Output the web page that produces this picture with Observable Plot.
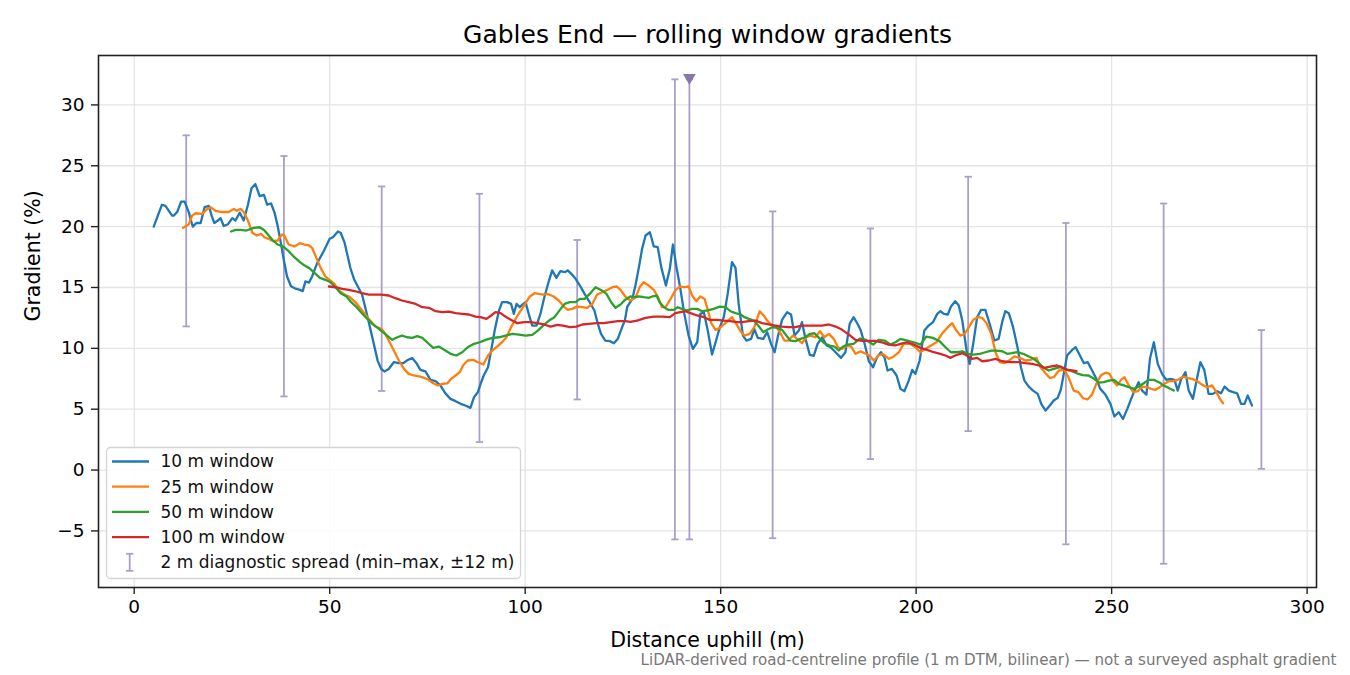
<!DOCTYPE html>
<html><head><meta charset="utf-8">
<script src="https://cdn.jsdelivr.net/npm/d3@7"></script>
<script src="https://cdn.jsdelivr.net/npm/@observablehq/plot@0.6"></script>
<style>body{margin:0;background:#fff}#chart{width:1350px;height:675px}</style>
</head><body><div id="chart"></div>
<script>
// ---------- data ----------
const seriesNames = ["10 m window", "25 m window", "50 m window", "100 m window"];
const seriesColors = ["#1f77b4", "#ff7f0e", "#2ca02c", "#d62728"];

const w10 = [[5.0,20.0],[7.1,21.8],[8.0,21.7],[9.7,20.9],[10.1,20.9],[11.0,21.2],[12.0,22.05],[12.9,22.05],[14.0,21.15],[14.4,20.6],[15.0,20.0],[15.9,20.3],[17.0,20.3],[18.0,21.6],[19.1,21.7],[19.8,20.9],[20.5,20.3],[21.4,20.5],[22.1,20.7],[22.9,20.05],[24.0,20.2],[25.1,20.7],[25.9,20.5],[27.0,21.15],[28.0,20.5],[29.1,21.8],[30.0,23.15],[31.0,23.5],[32.1,22.5],[33.2,22.6],[34.0,21.8],[35.0,21.9],[35.9,21.15],[36.7,20.05],[37.6,18.5],[38.3,17.2],[39.1,15.9],[40.1,15.1],[41.3,14.9],[42.4,14.8],[43.1,14.7],[43.8,15.5],[44.7,15.4],[45.5,15.9],[46.8,17.0],[48.5,18.0],[50.0,19.0],[50.9,19.15],[52.1,19.6],[52.8,19.5],[53.8,18.7],[55.3,16.6],[56.2,15.7],[57.5,14.9],[58.3,14.4],[59.6,12.7],[60.9,10.9],[62.3,8.95],[63.2,8.3],[64.0,8.1],[65.1,8.3],[66.4,8.86],[67.7,8.78],[68.8,8.78],[70.0,9.05],[71.1,9.2],[72.2,8.78],[73.2,8.23],[74.5,8.1],[75.8,7.4],[77.1,7.3],[78.3,6.95],[79.6,6.3],[80.9,5.85],[82.2,5.66],[83.5,5.44],[84.7,5.3],[86.0,5.11],[86.9,5.98],[87.9,6.4],[88.6,7.08],[89.4,7.77],[90.5,8.45],[91.3,9.82],[92.2,11.46],[93.3,13.1],[94.1,13.8],[95.4,13.8],[96.4,13.65],[97.1,12.83],[97.8,13.65],[98.6,13.38],[99.5,13.65],[100.1,13.8],[100.9,12.83],[101.8,11.87],[102.9,11.87],[103.9,12.83],[104.9,14.2],[106.1,15.57],[106.9,16.4],[108.0,15.79],[109.0,16.34],[110.1,16.26],[110.9,16.4],[111.8,16.12],[112.9,15.71],[114.0,15.16],[115.2,14.47],[116.5,13.79],[117.7,13.11],[118.6,12.01],[119.4,11.19],[120.5,10.64],[121.7,10.59],[122.7,10.42],[123.7,10.78],[124.8,11.74],[125.5,12.3],[126.1,13.4],[127.4,14.06],[128.2,15.16],[129.1,16.67],[129.9,18.17],[130.8,19.27],[131.9,19.54],[132.9,18.37],[133.9,18.31],[134.8,16.67],[136.0,15.16],[137.0,16.53],[137.8,18.53],[138.7,16.67],[139.7,14.89],[140.7,12.83],[141.8,11.05],[142.9,9.96],[144.0,10.5],[144.8,12.83],[145.7,12.97],[146.7,11.46],[147.8,9.49],[148.7,10.5],[149.8,11.74],[150.8,12.56],[151.8,14.47],[152.9,17.08],[153.8,16.61],[154.6,13.65],[155.7,11.05],[156.6,10.64],[157.8,10.78],[158.6,11.6],[159.5,10.86],[160.9,10.78],[161.9,11.33],[162.9,10.37],[163.8,9.68],[164.6,10.91],[165.7,12.34],[167.0,12.97],[168.0,12.78],[168.9,11.05],[170.0,11.46],[170.8,12.15],[171.7,10.78],[172.8,9.46],[173.8,9.38],[174.8,10.37],[176.0,10.91],[177.1,10.23],[178.1,10.09],[179.4,9.68],[180.8,9.22],[181.9,9.68],[183.0,12.01],[184.0,12.56],[185.1,11.96],[185.8,11.5],[186.8,10.4],[187.9,8.94],[189.0,8.45],[190.0,9.27],[191.0,9.68],[191.9,9.27],[192.7,8.18],[193.8,8.31],[195.0,7.77],[196.0,6.67],[197.0,6.48],[198.1,7.35],[199.0,8.23],[199.8,7.9],[200.9,9.0],[202.1,11.46],[203.2,11.87],[204.3,12.15],[205.4,12.83],[206.2,13.05],[207.1,12.83],[208.1,12.78],[208.9,13.43],[210.0,13.87],[210.9,13.52],[211.8,12.28],[212.9,9.82],[213.7,8.72],[214.6,10.37],[215.6,12.56],[216.6,13.16],[217.7,13.16],[218.8,12.01],[220.0,10.64],[221.1,10.78],[222.0,12.15],[222.8,13.05],[223.7,12.89],[224.8,11.74],[226.0,9.96],[226.8,8.45],[227.7,7.35],[228.8,6.86],[229.9,6.53],[231.1,6.26],[232.0,5.44],[233.1,4.89],[234.2,5.3],[235.2,5.71],[236.2,5.93],[237.0,6.6],[237.6,7.63],[238.6,9.41],[239.9,9.87],[240.8,10.09],[241.9,9.41],[242.9,8.78],[243.9,8.86],[245.0,8.18],[246.1,7.49],[247.1,6.67],[248.4,6.2],[249.7,5.44],[250.7,4.4],[251.8,4.75],[252.9,4.2],[254.0,5.03],[255.0,5.85],[255.8,6.48],[256.9,7.22],[257.8,6.53],[258.9,6.2],[259.8,9.14],[260.8,10.5],[261.8,8.72],[262.9,7.9],[264.0,7.41],[265.0,7.49],[266.1,7.41],[266.9,6.53],[267.8,7.49],[268.9,8.04],[269.7,6.53],[270.8,5.85],[271.9,7.63],[272.7,8.86],[273.7,8.23],[274.8,6.26],[275.9,6.26],[277.0,6.48],[278.0,6.31],[278.9,6.86],[280.0,6.53],[281.1,6.4],[282.1,6.31],[283.1,5.44],[284.0,5.44],[284.8,6.12],[285.9,5.3]];

const w25 = [[12.5,19.9],[14.0,20.2],[14.8,20.9],[15.7,21.1],[17.4,21.05],[18.5,21.4],[19.5,21.6],[20.8,21.3],[22.5,21.2],[24.2,21.2],[25.5,21.46],[26.3,21.3],[27.2,21.46],[28.0,21.2],[29.1,20.5],[30.2,19.5],[31.4,19.27],[32.5,19.4],[33.3,19.13],[34.4,19.0],[35.5,18.8],[36.7,18.86],[37.8,19.35],[38.4,19.27],[39.5,18.53],[41.0,18.37],[42.4,18.64],[43.5,18.53],[44.7,18.45],[45.5,18.26],[46.6,17.43],[47.6,16.67],[48.9,15.9],[50.2,15.57],[51.2,15.3],[52.3,14.75],[53.8,14.42],[54.9,14.26],[56.6,13.79],[58.3,13.11],[60.0,12.42],[61.7,11.79],[63.2,11.6],[64.0,11.3],[65.1,10.64],[66.4,9.82],[67.7,9.0],[69.0,8.31],[70.2,7.9],[71.5,7.77],[73.2,7.68],[74.9,7.49],[76.5,7.13],[77.7,6.95],[78.8,7.08],[80.1,7.13],[81.1,7.49],[82.2,7.77],[83.3,8.04],[84.1,8.59],[85.3,9.0],[86.7,9.05],[87.9,8.86],[89.3,8.67],[90.5,9.41],[91.6,9.82],[92.8,10.15],[94.1,10.5],[95.2,10.91],[96.4,11.74],[97.8,12.56],[99.0,13.16],[100.1,13.71],[101.2,14.26],[102.4,14.53],[103.5,14.47],[104.6,14.42],[105.8,14.47],[107.3,14.26],[108.6,13.93],[109.9,13.43],[110.9,13.16],[112.0,13.24],[113.3,13.43],[114.6,13.38],[115.9,13.33],[117.1,13.6],[118.4,14.42],[119.7,14.61],[121.0,14.8],[122.3,15.02],[123.4,15.08],[124.4,14.8],[125.6,14.26],[126.9,13.93],[128.2,14.15],[129.3,15.02],[130.3,15.43],[131.6,15.16],[132.9,14.8],[133.9,14.26],[135.0,13.38],[136.0,13.43],[137.2,14.06],[138.4,14.75],[139.5,15.08],[140.7,15.02],[141.8,15.08],[142.7,14.34],[143.8,13.87],[144.8,14.26],[145.9,14.06],[146.7,13.16],[147.6,12.07],[148.7,11.52],[149.8,11.68],[151.0,12.01],[152.1,12.34],[152.9,12.56],[154.0,12.01],[155.1,11.41],[156.1,11.05],[157.4,11.19],[158.6,11.74],[160.0,13.05],[161.0,12.7],[162.0,12.23],[163.2,11.87],[164.3,11.74],[165.3,11.24],[166.3,10.64],[167.4,10.64],[168.5,11.05],[169.6,10.78],[170.8,10.42],[171.9,10.91],[173.0,11.05],[174.2,10.91],[175.4,11.41],[176.5,10.91],[177.7,11.19],[178.9,10.78],[180.0,10.09],[181.1,9.96],[182.3,10.23],[183.4,10.15],[184.5,9.55],[185.8,9.75],[186.8,9.6],[188.1,9.4],[189.2,9.0],[190.4,9.41],[191.5,9.55],[193.0,9.14],[194.3,9.33],[195.6,9.68],[196.8,10.37],[198.5,10.37],[199.8,10.09],[201.1,9.68],[202.4,9.96],[203.8,10.23],[205.2,10.5],[206.6,11.19],[208.1,11.74],[209.2,12.07],[210.3,11.46],[211.3,11.05],[212.4,11.19],[213.5,11.74],[214.6,12.34],[215.8,12.56],[216.9,12.5],[218.0,12.07],[219.2,11.19],[220.3,9.68],[221.4,8.86],[222.6,8.78],[224.0,9.05],[225.1,9.33],[226.5,9.22],[228.0,9.0],[229.2,9.05],[230.8,9.22],[231.8,8.45],[233.1,7.96],[234.2,7.57],[235.2,7.63],[236.5,8.18],[237.9,8.23],[239.0,7.6],[240.3,6.53],[241.5,6.4],[242.7,5.9],[243.8,5.8],[245.0,6.2],[246.1,7.1],[247.3,7.8],[248.5,8.0],[249.5,7.9],[250.4,7.3],[251.4,6.95],[252.4,7.41],[253.3,7.63],[254.4,6.95],[255.5,6.4],[256.7,6.48],[257.8,6.86],[258.9,6.81],[260.1,6.67],[261.2,6.59],[262.3,6.81],[263.5,7.08],[264.6,7.3],[265.7,7.3],[266.9,7.41],[268.3,7.68],[269.3,7.57],[270.6,7.49],[271.9,7.3],[273.1,7.02],[274.4,6.81],[275.7,6.95],[276.8,6.4],[277.7,5.85],[278.5,5.49]];

const w50 = [[24.8,19.6],[25.9,19.73],[27.2,19.73],[28.7,19.68],[30.6,19.9],[32.1,19.95],[33.2,19.73],[34.4,19.27],[35.5,18.86],[36.7,18.53],[38.1,18.37],[39.5,17.98],[40.8,17.54],[42.4,17.08],[43.6,16.8],[44.7,16.61],[45.9,16.26],[47.5,15.79],[48.9,15.63],[50.2,15.43],[51.5,15.02],[52.8,14.53],[54.3,14.26],[55.5,13.79],[56.9,13.38],[58.0,12.97],[59.4,12.5],[60.9,12.01],[62.3,11.68],[63.5,11.35],[64.7,11.05],[66.0,10.7],[67.3,10.91],[68.5,11.05],[69.8,10.91],[71.1,10.86],[72.4,11.0],[73.7,10.86],[74.9,10.5],[76.5,10.04],[77.9,10.15],[79.4,9.87],[80.9,9.55],[82.4,9.41],[83.9,9.68],[85.3,10.09],[86.9,10.37],[88.4,10.5],[89.9,10.7],[91.6,10.86],[93.3,10.91],[95.0,11.05],[96.7,11.19],[98.4,11.13],[100.1,11.05],[101.8,11.11],[103.1,11.41],[104.6,11.87],[106.1,12.28],[107.5,12.56],[108.9,13.16],[110.1,13.65],[111.4,13.79],[112.9,13.79],[114.0,14.06],[115.2,14.06],[116.5,14.47],[118.0,15.02],[119.4,14.8],[120.8,14.47],[122.0,13.79],[123.1,13.33],[124.4,13.6],[125.6,14.0],[126.9,14.26],[127.8,14.2],[129.1,14.26],[130.3,14.2],[131.6,14.15],[132.5,14.26],[133.6,14.34],[134.4,13.79],[135.5,13.38],[136.7,13.16],[138.0,13.16],[139.0,13.38],[140.1,13.24],[141.3,13.11],[142.7,13.24],[144.0,13.24],[145.3,13.05],[146.7,13.11],[148.2,13.24],[149.8,13.43],[151.2,13.38],[152.5,13.05],[153.8,12.89],[155.1,12.78],[156.1,12.56],[157.2,12.42],[158.5,12.28],[159.8,11.79],[160.9,11.33],[161.9,11.52],[163.2,11.74],[164.4,11.68],[165.7,11.52],[166.8,11.05],[167.8,10.64],[169.1,10.59],[170.4,10.78],[171.7,10.91],[172.8,11.19],[174.0,11.24],[175.4,10.78],[176.5,10.42],[177.9,10.23],[179.1,10.15],[180.2,9.82],[181.3,10.15],[182.5,10.31],[184.0,10.37],[185.6,10.8],[187.0,10.72],[189.0,10.31],[190.4,10.7],[191.9,10.64],[193.4,10.31],[194.7,10.5],[196.0,10.78],[197.7,10.64],[199.4,10.5],[201.1,10.31],[202.6,10.97],[204.3,10.86],[206.0,10.59],[207.5,10.09],[208.9,9.68],[210.5,9.68],[211.8,9.76],[213.2,9.55],[214.7,9.49],[216.3,9.55],[217.7,9.68],[219.2,9.82],[220.5,9.82],[222.0,9.76],[223.3,9.55],[224.5,9.6],[225.8,9.68],[227.4,9.55],[228.8,9.33],[230.1,9.14],[231.4,8.78],[232.6,8.4],[233.9,8.18],[235.2,8.31],[236.8,8.45],[238.4,8.27],[239.7,8.15],[241.1,7.95],[242.6,7.8],[244.1,7.77],[245.4,7.53],[246.7,7.18],[248.0,7.22],[249.3,7.35],[250.6,7.41],[251.8,7.08],[253.1,6.95],[254.4,6.81],[255.7,6.67],[257.0,6.86],[258.2,7.13],[259.5,7.41],[260.8,7.41],[262.1,7.22],[263.3,6.95],[264.6,6.75],[265.9,6.53]];

const w100 = [[49.8,15.08],[51.5,15.02],[53.2,14.89],[54.9,14.8],[56.6,14.69],[58.3,14.53],[60.0,14.42],[61.7,14.42],[63.2,14.42],[65.1,14.34],[66.8,14.12],[68.5,13.93],[70.2,13.79],[72.0,13.65],[73.7,13.38],[75.4,13.33],[77.1,13.05],[78.8,12.97],[80.5,13.02],[82.2,12.89],[83.9,12.83],[85.6,12.78],[87.3,12.61],[88.6,12.56],[90.1,12.42],[91.3,12.7],[92.4,12.97],[93.7,12.89],[95.2,12.56],[96.7,12.28],[98.0,12.07],[99.7,12.15],[101.4,12.15],[103.1,12.07],[104.8,11.96],[106.5,11.79],[108.2,11.93],[109.7,11.87],[111.4,11.74],[113.1,11.79],[114.6,11.96],[116.3,12.01],[118.2,12.07],[120.1,12.07],[121.8,12.15],[123.7,12.23],[125.7,12.23],[126.9,12.18],[128.6,12.28],[130.8,12.5],[132.9,12.61],[135.0,12.61],[137.0,12.56],[138.4,12.89],[139.7,12.97],[141.0,13.05],[142.3,12.89],[144.0,12.7],[145.7,12.56],[147.2,12.34],[149.1,12.34],[150.8,12.28],[152.5,12.23],[154.0,12.15],[155.5,12.15],[157.2,12.23],[158.9,12.28],[160.6,12.07],[162.3,11.96],[164.0,11.87],[165.7,11.79],[167.4,11.74],[169.1,11.74],[170.8,11.87],[172.5,11.87],[174.2,11.87],[175.9,11.87],[177.7,11.96],[179.4,11.79],[181.1,11.52],[182.8,11.13],[184.5,10.7],[186.2,10.62],[187.9,10.62],[189.5,10.62],[191.2,10.5],[192.9,10.3],[194.7,10.25],[196.5,10.4],[197.7,10.5],[199.4,10.31],[201.1,10.04],[202.8,9.87],[204.5,9.68],[206.2,9.55],[207.5,9.41],[208.8,9.22],[210.0,9.41],[211.8,9.6],[213.0,9.41],[214.3,9.14],[215.6,9.22],[216.9,8.94],[218.6,9.0],[220.3,9.14],[222.0,8.94],[224.1,8.86],[226.2,8.86],[228.0,8.78],[229.7,8.72],[231.4,8.59],[232.8,8.4],[234.3,8.5],[236.0,8.59],[237.3,8.45],[238.6,8.23],[239.9,8.18],[241.0,8.12]];

// 2 m diagnostic spread (min–max within ±12 m)
const spreadX  = [13.3, 38.3, 63.3, 88.3, 113.3, 138.3, 142.0, 163.3, 188.3, 213.3, 238.3, 263.3, 288.3];
const spreadLo = [11.8, 6.05, 6.5, 2.3, 5.8, -5.7, -5.7, -5.6, 0.9, 3.2, -6.1, -7.7, 0.1];
const spreadHi = [27.5, 25.8, 23.3, 22.7, 18.9, 32.1, 32.1, 21.25, 19.85, 24.1, 20.3, 21.9, 11.5];
const steepX = [142.0];
const steepY = [32.1];

const xTicks = [0, 50, 100, 150, 200, 250, 300];
const yTicks = [-5, 0, 5, 10, 15, 20, 25, 30];

const titleText = "Gables End \u2014 rolling window gradients";
const xLabel = "Distance uphill (m)";
const yLabel = "Gradient (%)";
const captionText = "LiDAR-derived road-centreline profile (1 m DTM, bilinear) \u2014 not a surveyed asphalt gradient";
const spreadLabel = "2 m diagnostic spread (min\u2013max, \u00b112 m)";

// ---------- build ----------
const rows = [];
[w10, w25, w50, w100].forEach((s, i) => s.forEach(([x, y]) => rows.push({series: seriesNames[i], x, y})));
const spread = spreadX.map((x, i) => ({x, lo: spreadLo[i], hi: spreadHi[i]}));
const steep = steepX.map((x, i) => ({x, y: steepY[i]}));

const capSymbol = {draw(ctx, size) { const r = Math.sqrt(size / Math.PI); ctx.moveTo(-r, 0); ctx.lineTo(r, 0); }};
const downTri = {draw(ctx, size) { const r = Math.sqrt(size / Math.PI); ctx.moveTo(-r, -0.85 * r); ctx.lineTo(r, -0.85 * r); ctx.lineTo(0, 0.85 * r); ctx.closePath(); }};

const FONT = "DejaVu Sans, sans-serif";
const spreadColor = "#ab9fc9";

const chart = Plot.plot({
  width: 1350, height: 675,
  marginLeft: 98, marginRight: 34, marginTop: 55, marginBottom: 88,
  style: {fontFamily: FONT, fontSize: "18.5px", background: "#fff", color: "#000", overflow: "visible"},
  x: {domain: [-9.13, 302.4], label: null},
  y: {domain: [-9.65, 34.06], label: null},
  color: {domain: seriesNames, range: seriesColors},
  marks: [
    Plot.gridX(xTicks, {stroke: "#e4e4e4", strokeOpacity: 1, strokeWidth: 1.3}),
    Plot.gridY(yTicks, {stroke: "#e4e4e4", strokeOpacity: 1, strokeWidth: 1.3}),
    Plot.ruleX(spread, {x: "x", y1: "lo", y2: "hi", stroke: spreadColor, strokeWidth: 1.8}),
    Plot.dot(spread, {x: "x", y: "lo", symbol: capSymbol, r: 3.6, stroke: spreadColor, strokeWidth: 1.8, fill: "none"}),
    Plot.dot(spread, {x: "x", y: "hi", symbol: capSymbol, r: 3.6, stroke: spreadColor, strokeWidth: 1.8, fill: "none"}),
    Plot.line(rows, {x: "x", y: "y", z: "series", stroke: "series", strokeWidth: 2.3, strokeLinejoin: "round"}),
    Plot.dot(steep, {x: "x", y: "y", symbol: downTri, r: 6.4, fill: "#8677ad", stroke: "none"}),
    Plot.frame({stroke: "#222", strokeWidth: 1.6}),
    Plot.axisX(xTicks, {tickSize: 7, tickPadding: 5, fontSize: 18.5, label: null, stroke: "#222", strokeWidth: 1.4}),
    Plot.axisY(yTicks, {tickSize: 7, tickPadding: 7, fontSize: 18.5, label: null, stroke: "#222", strokeWidth: 1.4}),
    Plot.text([titleText], {frameAnchor: "top", dy: -21, fontSize: 25, fill: "#000", lineAnchor: "middle"}),
    Plot.text([xLabel], {frameAnchor: "bottom", dy: 53, fontSize: 20.5, fill: "#000", lineAnchor: "middle"}),
    Plot.text([yLabel], {frameAnchor: "left", dx: -65, rotate: -90, fontSize: 20.5, fill: "#000", lineAnchor: "middle"}),
    Plot.text([captionText], {frameAnchor: "bottom-right", dx: 20, dy: 73, textAnchor: "end", fontSize: 15.1, fill: "#777", lineAnchor: "middle"})
  ]
});

// legend (static decoration inside the axes)
const svg = d3.select(chart);
const lg = svg.append("g").attr("font-family", FONT).attr("font-size", 17).attr("text-anchor", "start");
lg.append("rect").attr("x", 106.5).attr("y", 447.5).attr("width", 414).attr("height", 131)
  .attr("rx", 4).attr("fill", "#fff").attr("fill-opacity", 0.85).attr("stroke", "#d4d4d4").attr("stroke-width", 1.3);
seriesNames.forEach((name, i) => {
  const yy = 461.5 + 25.2 * i;
  lg.append("line").attr("x1", 112).attr("x2", 149).attr("y1", yy).attr("y2", yy)
    .attr("stroke", seriesColors[i]).attr("stroke-width", 2.3);
  lg.append("text").attr("x", 160.5).attr("y", yy).attr("dy", "0.35em").attr("fill", "#111")
    .attr("text-anchor", "start").text(name);
});
{
  const yy = 562.3, cx = 129.7;
  lg.append("line").attr("x1", cx).attr("x2", cx).attr("y1", yy - 8.5).attr("y2", yy + 8.5).attr("stroke", spreadColor).attr("stroke-width", 1.8);
  lg.append("line").attr("x1", cx - 3.6).attr("x2", cx + 3.6).attr("y1", yy - 8.5).attr("y2", yy - 8.5).attr("stroke", spreadColor).attr("stroke-width", 1.8);
  lg.append("line").attr("x1", cx - 3.6).attr("x2", cx + 3.6).attr("y1", yy + 8.5).attr("y2", yy + 8.5).attr("stroke", spreadColor).attr("stroke-width", 1.8);
  lg.append("text").attr("x", 160.5).attr("y", yy).attr("dy", "0.35em").attr("fill", "#111")
    .attr("text-anchor", "start").text(spreadLabel);
}

document.getElementById("chart").appendChild(chart);
</script>
</body></html>
